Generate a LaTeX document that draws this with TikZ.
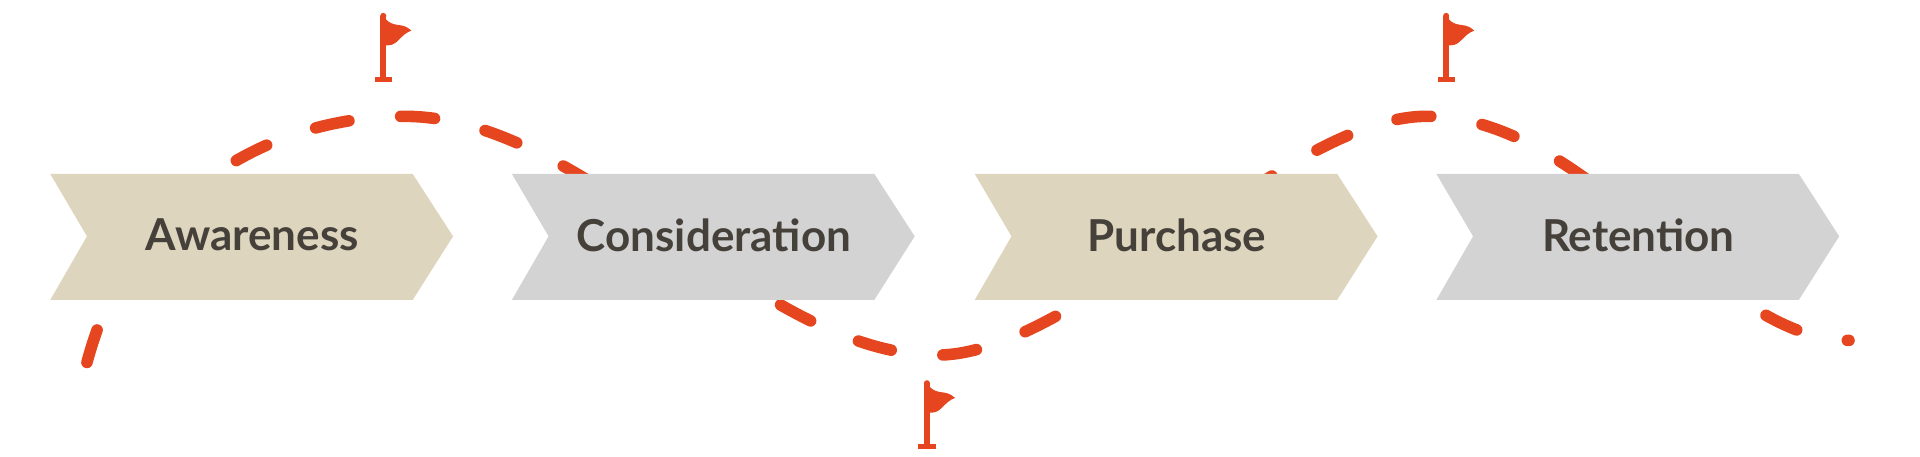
\documentclass[tikz,border=0pt]{standalone}
\usepackage{fontspec}
\setmainfont{Lato}
\definecolor{orng}{HTML}{E5461F}
\definecolor{beige}{HTML}{DED5BE}
\definecolor{gry}{HTML}{D3D3D3}
\definecolor{txt}{HTML}{45413A}
\begin{document}
\begin{tikzpicture}[x=0.61225pt,y=-0.61225pt,
  path/.style={draw=orng,line width=5.8pt,line cap=round,dash pattern=on 17pt off 26pt},
  lbl/.style={font=\bfseries\fontsize{22}{26}\selectfont,text=txt}]
\useasboundingbox (0,0) rectangle (1568,373);
\draw[path] (71,296) .. controls (110,150) and (230,95) .. (330,95)
  .. controls (480,95) and (620,290) .. (765,290)
  .. controls (880,290) and (1050,95) .. (1165,95)
  .. controls (1300,95) and (1400,278) .. (1510,278);
\newcommand\chev[3]{%
  \fill[#2] (#1,142) -- ++(296,0) -- ++(33,51) -- ++(-33,52) -- ++(-296,0) -- ++(30,-52) -- cycle;
  \node[lbl] (n#3) at (#1+165,192) {#3};}
\chev{41}{beige}{Awareness}
\chev{418}{gry}{Consideration}
\chev{796}{beige}{Purchase}
\chev{1173}{gry}{Retention}
\newcommand\flg[2]{%
  \begin{scope}[shift={(#1,#2)}]
  \fill[orng] (-2.5,1) rectangle (2.5,53);
  \fill[orng] (0,1) circle (2.5);
  \fill[orng] (-7,51) rectangle (7,55);
  \fill[orng] (1,2) .. controls (5,9) and (13,8) .. (16,9) .. controls (19,10) and (21,11) .. (23,13)
     .. controls (14,16) and (12,25) .. (4,25) -- (1,25) -- cycle;
  \end{scope}}
\flg{313}{12}
\flg{1181}{12}
\flg{757}{312}
\end{tikzpicture}
\end{document}
